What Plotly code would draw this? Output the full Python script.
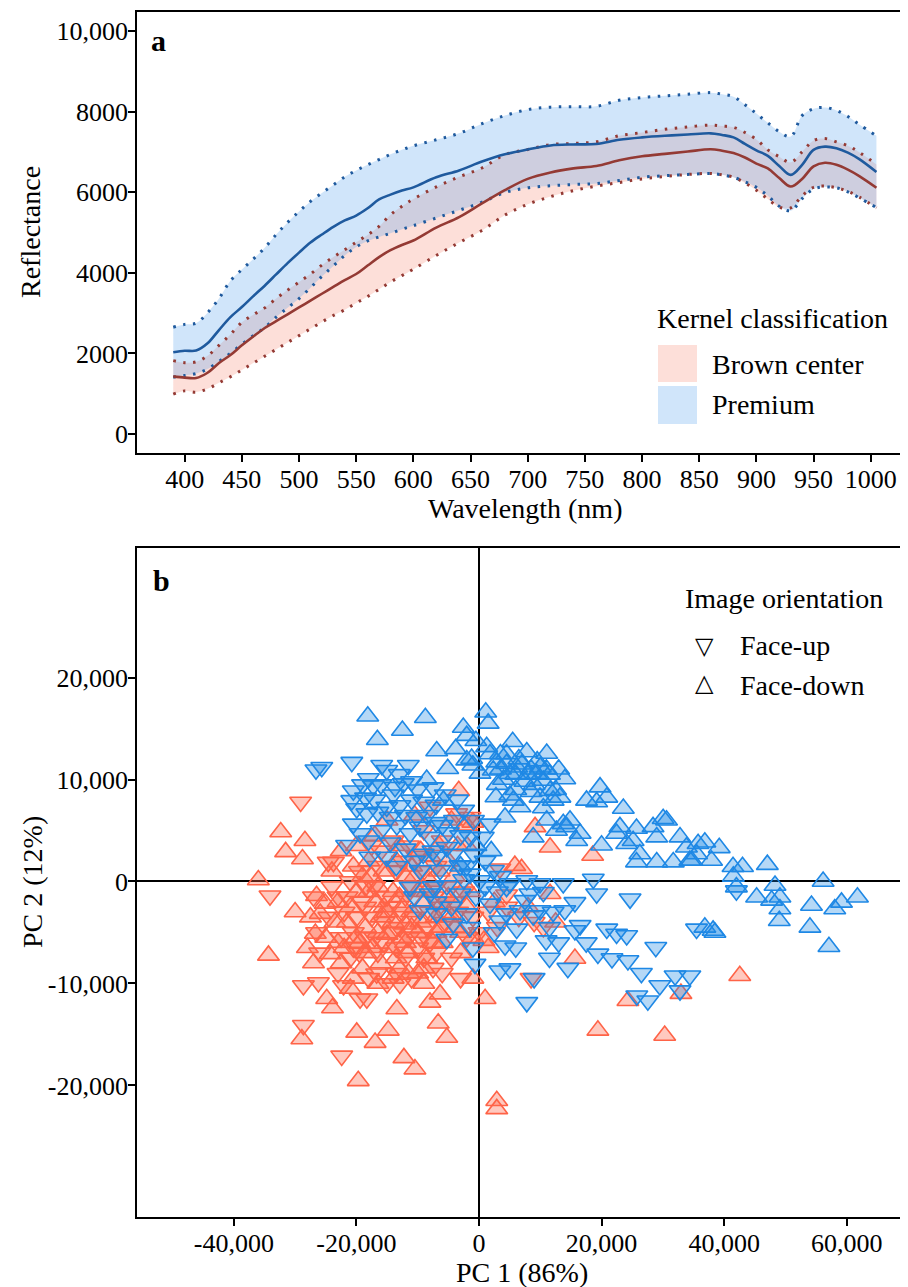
import plotly.graph_objects as go

# ---------------- Panel a: reflectance spectra ----------------
wavelength = [390, 400, 410, 420, 430, 440, 450, 460, 470, 480, 490, 500, 510, 520, 530, 540,
              550, 560, 570, 580, 590, 600, 620, 640, 660, 680, 700, 720, 740, 760, 780, 800,
              820, 840, 860, 870, 880, 890, 900, 910, 920, 930, 940, 950, 960, 970, 980, 990, 1005]

premium_mean = [2030, 2065, 2070, 2250, 2580, 2900, 3150, 3420, 3680, 3960, 4240, 4500, 4750, 4950, 5140, 5300,
                5420, 5600, 5820, 5940, 6040, 6120, 6370, 6540, 6760, 6940, 7060, 7160, 7185, 7195, 7300, 7360,
                7400, 7430, 7460, 7420, 7360, 7200, 7040, 6900, 6650, 6430, 6680, 7050, 7130, 7090, 6980, 6820, 6500]
premium_upper = [2650, 2720, 2750, 3010, 3360, 3800, 4080, 4340, 4620, 4950, 5250, 5520, 5770, 5980, 6180, 6380,
                 6540, 6680, 6810, 6940, 7050, 7150, 7300, 7460, 7700, 7900, 8050, 8110, 8120, 8130, 8280, 8350,
                 8390, 8430, 8470, 8430, 8370, 8170, 7950, 7720, 7500, 7380, 7900, 8070, 8100, 8030, 7880, 7680, 7400]
premium_lower = [1410, 1450, 1500, 1610, 1800, 2000, 2230, 2440, 2640, 2900, 3130, 3360, 3630, 3910, 4170, 4430,
                 4640, 4790, 4890, 4980, 5080, 5170, 5360, 5550, 5750, 5990, 6110, 6160, 6190, 6215, 6290, 6370,
                 6410, 6440, 6465, 6430, 6370, 6260, 6120, 5910, 5650, 5540, 5840, 6080, 6130, 6110, 6010, 5860, 5620]
brown_mean = [1430, 1400, 1390, 1520, 1760, 1960, 2200, 2420, 2630, 2800, 2970, 3140, 3310, 3480, 3650, 3820,
              3970, 4180, 4390, 4560, 4690, 4800, 5120, 5380, 5720, 6050, 6330, 6490, 6590, 6650, 6790, 6890,
              6950, 7010, 7065, 7030, 6970, 6860, 6710, 6590, 6350, 6140, 6330, 6640, 6730, 6680, 6560, 6400, 6110]
brown_upper = [1820, 1770, 1790, 1940, 2200, 2470, 2770, 2960, 3130, 3360, 3570, 3770, 3970, 4190, 4390, 4570,
               4760, 4940, 5150, 5440, 5650, 5830, 6130, 6380, 6600, 6930, 7060, 7180, 7210, 7250, 7400, 7480,
               7560, 7620, 7665, 7640, 7610, 7480, 7310, 7050, 6880, 6740, 7000, 7280, 7330, 7250, 7150, 6990, 6690]
brown_lower = [990, 1070, 1040, 1120, 1270, 1420, 1590, 1760, 1930, 2100, 2270, 2440, 2610, 2780, 2940, 3080,
               3250, 3410, 3590, 3770, 3930, 4090, 4430, 4750, 5050, 5430, 5700, 5890, 6040, 6150, 6240, 6330,
               6390, 6440, 6465, 6430, 6370, 6230, 6050, 5830, 5630, 5610, 5910, 6120, 6150, 6110, 6020, 5880, 5610]

wl_ticks = [400, 450, 500, 550, 600, 650, 700, 750, 800, 850, 900, 950, 1000]
refl_ticks = [0, 2000, 4000, 6000, 8000, 10000]
refl_labels = ["0", "2000", "4000", "6000", "8000", "10,000"]

# ---------------- Panel b: PCA scores ----------------
# (PC1, PC2) pairs
premium_faceup = [
    (-26600, 10950), (-25650, 11200), (-20750, 11700), (-15870, 11400), (-11530, 11400), (-15050, 10900),
    (-20500, 8900), (-18050, 10100), (-17250, 9400), (-13700, 9250), (-12350, 9600), (-20750, 7950),
    (-19950, 7150), (-18300, 6650), (-15050, 7300), (-12900, 7450), (-14500, 6300), (-20500, 5650),
    (-19400, 4700), (-21600, 3550), (-17800, 2400), (-13400, 5500), (-10150, 6300), (-8500, 6500),
    (-9600, 5350), (-11250, 4700), (-8000, 4350), (-5250, 3350), (-4200, 2700), (-6900, 2400),
    (-9100, 2700), (-12050, 3200), (-15050, 2400), (-900, 6000), (1800, 5650), (700, 4350),
    (-1450, 4350), (-900, 2700), (-3100, 1550), (-1450, 750), (150, 100), (-6350, 1100),
    (-9600, 1100), (-11250, -550), (-8000, -1200), (-5250, -400), (-3100, -1200), (-2000, -3150),
    (-4200, -4150), (-9600, -2850), (-6900, -3150), (1800, -2200), (3400, -3850), (4500, -550),
    (2350, 1100), (-17000, 8000), (-16000, 5000), (-14000, 8500), (-19000, 9500), (-11000, 8000),
    (-10000, 9000), (-7000, 7500), (-6000, 5500), (-4000, 6000), (-3000, 4500), (-7500, 3000),
    (-2500, 200), (-500, -1500), (1000, -500), (-1500, -4500), (-7500, -500),
    (18650, 250), (19200, -1200), (24650, -1700), (15650, -2050), (14000, -2850), (12100, -3000),
    (16500, -4300), (20850, -4650), (22450, -5150), (24100, -5300), (35500, -4650), (5050, -200),
    (7800, 100), (9950, -200), (8300, -1200), (10500, -1050), (13750, -200), (6700, -2850),
    (4500, -3150), (8850, -3350), (6150, -4650), (19400, -7100), (21700, -7550), (24300, -7750),
    (29500, -10200), (32000, -9250), (34400, -9250), (27550, -11700), (25750, -11200), (32800, -10700),
    (28850, -6450), (15650, -4800), (10950, -5800), (9950, -2850), (7500, -1850), (42000, -900),
    (3400, -8750), (-650, -8100), (-5250, -5650), (7800, -11850), (5050, -8550), (4250, -6300),
    (11500, -7500), (9000, -9500), (13000, -6000), (26500, -9000),
    (-18500, 8200), (-16000, 9500), (-13000, 10500), (-11000, 9800), (-9000, 7800), (-7500, 9200),
    (-5500, 8500), (-3500, 8000), (-2500, 7000), (-12000, 6500), (-16500, 6800), (-18000, 4000),
    (-14500, 3800), (-10500, 2000), (-7000, 5800), (-5000, 4800), (-2000, 1500), (-4500, -2500),
    (-7000, -2000), (-10500, -1500), (-1000, -6500), (2500, -5000), (6000, -6500), (3000, -1000),
    (-13500, 1500), (1000, 2000), (3500, 500), (11500, -4500), (17500, -6000), (14500, -8500),
]
premium_facedown = [
    (-18150, 16200), (-16580, 13900), (-12500, 14800), (-8750, 16050), (-6900, 12800), (-8530, 10000),
    (-5100, 11050), (-2560, 15100), (-2000, 14300), (-3800, 13000), (-1200, 12050), (1100, 16600),
    (1500, 15500), (1250, 13200), (5500, 13700), (2900, 11700), (4500, 11550), (6150, 11200),
    (2330, 10900), (5050, 10570), (160, 10600), (-1000, 11400), (-2000, 11900), (2770, 8280),
    (5050, 8450), (-5800, 7950), (7800, 12700), (11050, 12550), (9400, 10550), (10500, 9900),
    (11600, 8900), (14000, 10050), (12100, 7950), (13200, 8250), (9950, 8250), (5600, 7950),
    (6700, 7300), (4250, 6300), (11050, 6000), (13750, 5650), (14850, 6000), (19750, 9250),
    (17550, 7950), (19200, 7800), (20850, 8250), (23550, 7150), (23000, 5350), (25700, 5200),
    (25150, 4000), (28400, 5350), (30050, 6150), (30600, 6000), (29000, 4350), (26250, 2700),
    (25700, 1900), (29000, 1900), (31700, 1900), (32800, 4350), (33850, 3350), (34400, 2050),
    (35500, 2700), (22450, 4700), (24100, 3700), (15950, 4000), (16500, 4700), (20000, 3550),
    (14300, 5350), (12650, 5000), (8850, 4350), (7000, 11500), (8500, 11000), (10000, 11200),
    (11500, 10500), (9000, 9500), (12500, 9000), (3500, 12500), (4000, 10000), (7500, 9800),
    (6000, 9000), (3000, 9500), (35750, 3700), (36850, 3850), (39200, 3300), (37950, 2050),
    (34700, 2050), (41450, 1450), (43000, 1450), (47050, 1650), (42000, -550), (41500, 500),
    (45300, -1550), (47750, -1850), (48300, -400), (49100, -1550), (49100, -2700), (49000, -3850),
    (56150, 0), (54250, -2350), (58050, -2700), (59150, -2050), (61750, -1550), (54000, -4500),
    (57100, -6400), (36850, -4500), (38200, -4800), (38500, -5000), (2000, 3000), (-3000, 1500),
    (-500, 3500), (4500, 12500), (6500, 12000), (8000, 10500), (9500, 11800), (11000, 11000),
    (6000, 10500), (8500, 8800), (10500, 7200), (3500, 11000), (13000, 11000), (-500, 13800),
    (1800, 12500),
]
brown_faceup = [
    (-29100, 7800), (-24600, 1900), (-34100, -1400), (-23750, 1900), (-28650, -10200), (-26200, -9900),
    (-28650, -14100), (-22100, -10200), (-19400, -11500), (-18300, -11500), (-12900, -10050), (-16700, -9050),
    (-22400, -17100), (-8000, 7300), (-3650, 6650), (-1450, 6300), (4500, -2500), (3400, 1250),
    (8500, -9500), (4500, -1300), (-27000, -1500), (-24000, -500), (-22000, -3000), (-20500, -5000),
    (-19000, -2000), (-17500, -3500), (-26000, -7000), (-23000, -9000), (-21000, -7500), (-18000, -9500),
    (-15000, -10000), (-13500, -9000), (-11000, -9500), (-7500, -8500), (-6000, -9000), (-4500, -7500),
    (-3000, -9500), (-15500, -6000), (-12000, -7500), (-10000, -6500), (-8500, -4500), (-6500, -2500),
    (-4500, -500), (-2500, -1000), (-1000, -3500), (-15000, -1500), (-12500, -3000), (-11000, -500),
    (-9500, 1000), (-7000, 1500), (-13500, 1000), (-16500, 1500), (-18500, -500), (-21000, 0),
    (-23000, -1500), (0, -5000), (1500, -3000), (3000, -4500), (6500, -3500), (9000, -4000),
    (10500, -4500), (-16000, 3000), (-14000, 4000), (-11500, 3500), (-9000, 5000), (-6000, 4000),
    (-5500, -4000), (-8000, -6000), (-14000, -5000), (-17000, -5500), (-19500, -7000), (-26500, -5000),
    (-24500, -3500), (-22500, -5500), (-21500, -1500), (-20000, -3500), (-18500, -2500), (-17000, -500),
    (-15500, -4000), (-14500, -2500), (-13000, -4500), (-12000, -1500), (-10500, -3500), (-9500, -5500),
    (-8000, -3000), (-7000, -500), (-5500, -2000), (-3500, -3000), (-2000, -5500), (-11500, -5500),
    (-13500, -6500), (-16500, -7000), (-18500, -5500), (-20500, -6500), (-9000, -7500), (-7000, -7000),
    (-4000, -2000), (-19500, 1000), (-17500, 3500), (-12500, 2000), (-10000, 2500), (-7500, -1500),
]
brown_facedown = [
    (-32350, 4850), (-28400, 4000), (-31550, 2900), (-28800, 2200), (-36000, 150), (-26500, -1400),
    (-34350, -7250), (-24850, -11500), (-23900, -12400), (-28900, -15450), (-13400, -12500), (-19950, -14800),
    (-14800, -14600), (-16950, -15800), (-12250, -17300), (-10450, -18400), (-19700, -19550), (-6350, -11050),
    (-8000, -11850), (-6650, -13900), (-5250, -15300), (1000, -11500), (2900, -21500), (2900, -22300),
    (-3300, 8900), (9150, 5350), (11600, 3350), (18550, 2550), (5850, 1550), (6950, 1250),
    (11600, -1200), (15650, -7550), (24300, -11700), (19400, -14600), (30300, -15100), (32950, -11000),
    (42550, -9250), (800, -5800), (-25100, -2150), (-25900, -3150), (-26700, -5100), (-24300, -7100),
    (-22000, -6500), (-23500, -4000), (-21000, -2500), (-20000, -1000), (-19000, 500), (-18000, 2000),
    (-16500, -500), (-15500, -2500), (-14000, -4000), (-13000, -1500), (-12000, 500), (-11000, -3000),
    (-10000, -5000), (-9000, -2000), (-8000, 0), (-7000, -3500), (-6000, -6000), (-5000, -1500),
    (-4000, -4500), (-3000, -7000), (-2000, -2500), (-1000, -5500), (-17500, -6500), (-16000, -8000),
    (-14500, -6500), (-13000, -8500), (-11500, -7000), (-10000, -9000), (-8500, -7500), (-19000, -8500),
    (-20500, -9500), (-22500, -8000), (-18500, -4500), (-16000, -3500), (-14000, -1000), (-12500, -5500),
    (-11000, 1500), (-9500, 3000), (-8000, 2500), (-6500, 1000), (-5000, 2000), (-3500, 3500),
    (-2000, 5500), (-22500, 3000), (-20500, 1500), (-17000, 4500), (-15000, 6000), (-13000, 3500),
    (-10500, 6500), (-1000, 5800), (-4500, 6000), (-2000, 3500), (-20000, -5500), (-18500, -7000),
    (-15000, -5200), (-12000, -4200), (-7000, -5000), (-30000, -3000), (-27000, -8000), (-14000, -9500),
    (-9000, -10000), (-24000, 1000), (-12500, -2500), (-10000, -1000), (-17000, -2000), (-20000, 3500),
    (2500, -2000), (1500, -6500), (-1000, -9500), (8000, -2500), (12500, -4000),
    (-23000, -2000), (-21500, -4000), (-19500, -6000), (-18000, -1000), (-16500, -5000), (-15000, -3000),
    (-13500, -7500), (-12000, -6000), (-11000, -4500), (-9500, -4000), (-8500, -1000), (-7500, -6000),
    (-6000, -4500), (-4500, -3500), (-3000, -5000), (-1500, -1000), (-17500, 500), (-15500, 1000),
    (-13500, 2000), (-10500, 500), (-9000, -8500), (-11500, -9000), (-16500, -10000), (-21000, -10500),
    (-23000, -6000), (-25000, -5500), (-27500, -3500), (-28000, -6500), (-6500, 3500), (-4000, 500),
]

pc1_ticks = [-40000, -20000, 0, 20000, 40000, 60000]
pc1_labels = ["-40,000", "-20,000", "0", "20,000", "40,000", "60,000"]
pc2_ticks = [-20000, -10000, 0, 10000, 20000]
pc2_labels = ["-20,000", "-10,000", "0", "10,000", "20,000"]

# ---------------- styling ----------------
FONT = "Liberation Serif"
BLUE_LINE = "rgb(31,90,158)"
BROWN_LINE = "rgb(148,58,52)"
BLUE_FILL = "rgba(100,170,240,0.30)"
BROWN_FILL = "rgba(248,150,130,0.30)"
RED_MK = "rgb(255,99,71)"
RED_MK_FILL = "rgba(255,99,71,0.35)"
BLUE_MK = "rgb(30,136,229)"
BLUE_MK_FILL = "rgba(30,136,229,0.33)"

fig = go.Figure()

# ribbons (brown first, premium on top)
fig.add_trace(go.Scatter(x=wavelength, y=brown_lower, mode="lines", line=dict(width=0, shape="spline"),
                         showlegend=False, hoverinfo="skip"))
fig.add_trace(go.Scatter(x=wavelength, y=brown_upper, mode="lines", line=dict(width=0, shape="spline"),
                         fill="tonexty", fillcolor=BROWN_FILL, showlegend=False, hoverinfo="skip"))
fig.add_trace(go.Scatter(x=wavelength, y=premium_lower, mode="lines", line=dict(width=0, shape="spline"),
                         showlegend=False, hoverinfo="skip"))
fig.add_trace(go.Scatter(x=wavelength, y=premium_upper, mode="lines", line=dict(width=0, shape="spline"),
                         fill="tonexty", fillcolor=BLUE_FILL, showlegend=False, hoverinfo="skip"))

# dotted bounds and mean lines
for ys, col in [(brown_lower, BROWN_LINE), (brown_upper, BROWN_LINE),
                (premium_lower, BLUE_LINE), (premium_upper, BLUE_LINE)]:
    fig.add_trace(go.Scatter(x=wavelength, y=ys, mode="lines",
                             line=dict(color=col, width=3, dash="2.5px,7.5px", shape="spline"),
                             showlegend=False))
fig.add_trace(go.Scatter(x=wavelength, y=brown_mean, mode="lines",
                         line=dict(color=BROWN_LINE, width=2.6, shape="spline"), showlegend=False))
fig.add_trace(go.Scatter(x=wavelength, y=premium_mean, mode="lines",
                         line=dict(color=BLUE_LINE, width=2.6, shape="spline"), showlegend=False))

# PCA scatter
def add_pts(pts, symbol, fillc, linec):
    fig.add_trace(go.Scatter(x=[p[0] for p in pts], y=[p[1] for p in pts], mode="markers",
                             xaxis="x2", yaxis="y2", showlegend=False,
                             marker=dict(symbol=symbol, size=19, color=fillc,
                                         line=dict(color=linec, width=1.6))))

add_pts(brown_faceup, "triangle-down", RED_MK_FILL, RED_MK)
add_pts(brown_facedown, "triangle-up", RED_MK_FILL, RED_MK)
add_pts(premium_faceup, "triangle-down", BLUE_MK_FILL, BLUE_MK)
add_pts(premium_facedown, "triangle-up", BLUE_MK_FILL, BLUE_MK)

tickfont = dict(family=FONT, size=26, color="black")
axis_common = dict(showline=True, linecolor="black", linewidth=1.6, ticks="outside", ticklen=7,
                   tickwidth=1.6, tickcolor="black", showgrid=False, tickfont=tickfont,
                   ticklabelstandoff=-5)

# page has an 8px body margin: figure pixel = page pixel - 8
OFF = 8
W, H = 908 - OFF, 1287 - OFF
PLOT_L, PLOT_R, PLOT_T, PLOT_B = 137, 908, 12, 1217   # page pixels of the plot area
L, R, T, B = PLOT_L - OFF, 0, PLOT_T - OFF, H - (PLOT_B - OFF)
PW, PH = PLOT_R - PLOT_L, PLOT_B - PLOT_T

def px(x):
    return (x - PLOT_L) / PW

def py(y):
    return (PLOT_B - y) / PH

fig.update_layout(
    width=W, height=H, margin=dict(l=L, r=R, t=T, b=B),
    paper_bgcolor="white", plot_bgcolor="white",
    font=dict(family=FONT, color="black"),
    xaxis=dict(domain=[0, 1], anchor="y", range=[358.3, 1032.6], tickmode="array", tickvals=wl_ticks,
               mirror=True, zeroline=False, **axis_common),
    yaxis=dict(domain=[py(452.7), 1], anchor="x", range=[-464, 10471], tickmode="array",
               tickvals=refl_ticks, ticktext=refl_labels, zeroline=False, **axis_common),
    xaxis2=dict(domain=[0, 1], anchor="y2", range=[-55800, 70000], tickmode="array", tickvals=pc1_ticks,
                ticktext=pc1_labels, mirror=True, zeroline=True, zerolinecolor="black", zerolinewidth=2,
                **axis_common),
    yaxis2=dict(domain=[0, py(548)], anchor="x2", range=[-32900, 32700], tickmode="array",
                tickvals=pc2_ticks, ticktext=pc2_labels, zeroline=True, zerolinecolor="black",
                zerolinewidth=2, **axis_common),
)

ann = []
def text(s, x, y, size=28, xanchor="center", angle=0, bold=False, family=FONT):
    ann.append(dict(text=("<b>%s</b>" % s) if bold else s, x=px(x), y=py(y), xref="paper", yref="paper",
                    showarrow=False, xanchor=xanchor, yanchor="middle", textangle=angle,
                    font=dict(family=family, size=size, color="black")))

text("a", 158, 40, size=30, bold=True)
text("b", 161, 580, size=30, bold=True)
text("Reflectance", 30, 232, angle=-90)
text("Wavelength (nm)", 525, 508)
text("PC 2 (12%)", 32, 882, angle=-90)
text("PC 1 (86%)", 522, 1272)
text("Kernel classification", 655, 318, xanchor="left")
text("Brown center", 710, 365, xanchor="left")
text("Premium", 710, 405, xanchor="left")
text("Image orientation", 683, 598, xanchor="left")
text("Face-up", 738, 645, xanchor="left")
text("Face-down", 738, 685, xanchor="left")
text("\u25BD", 704, 646, size=24, family="DejaVu Sans")
text("\u25B3", 704, 683, size=24, family="DejaVu Sans")
fig.update_layout(annotations=ann)

fig.update_layout(shapes=[
    dict(type="rect", xref="paper", yref="paper", x0=px(658), x1=px(697), y0=py(382), y1=py(345),
         fillcolor=BROWN_FILL, line=dict(width=0)),
    dict(type="rect", xref="paper", yref="paper", x0=px(658), x1=px(697), y0=py(424), y1=py(386),
         fillcolor=BLUE_FILL, line=dict(width=0)),
])

fig.write_html("out.html")
